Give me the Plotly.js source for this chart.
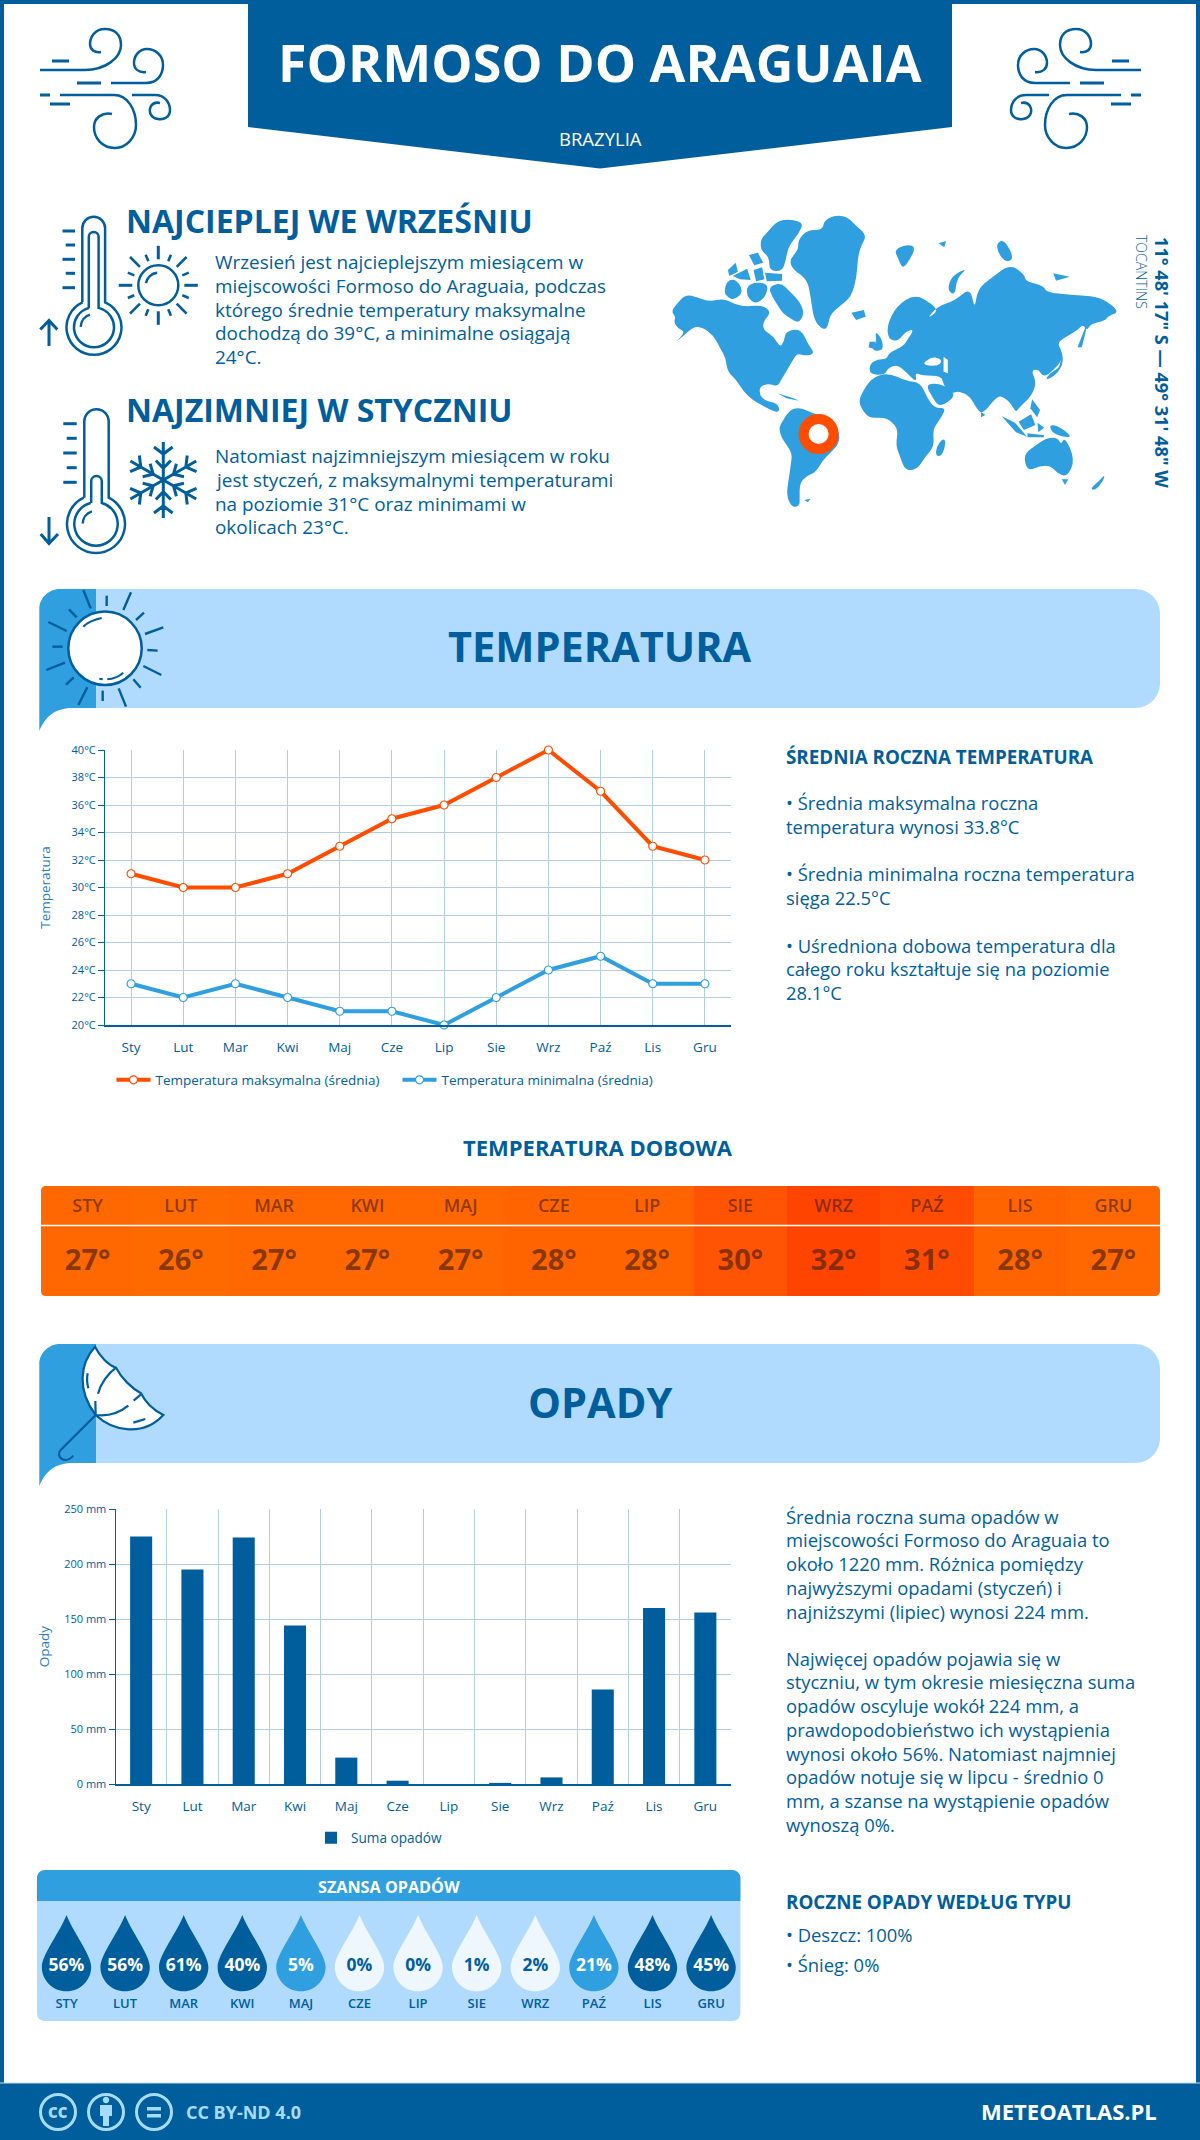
<!DOCTYPE html>
<html lang="pl"><head><meta charset="utf-8">
<script src="https://cdn.plot.ly/plotly-3.0.1.min.js"></script>
<style>html,body{margin:0;padding:0;background:#fff;overflow:hidden}#c{width:1200px;height:2140px}</style>
</head><body><div id="c"></div>
<script>
// ---------- data ----------
const monthsShort = ['Sty','Lut','Mar','Kwi','Maj','Cze','Lip','Sie','Wrz','Paź','Lis','Gru'];
const monthsUpper = ['STY','LUT','MAR','KWI','MAJ','CZE','LIP','SIE','WRZ','PAŹ','LIS','GRU'];
const tempMax = [31,30,30,31,33,35,36,38,40,37,33,32];
const tempMin = [23,22,23,22,21,21,20,22,24,25,23,23];
const tempDaily = [27,26,27,27,27,28,28,30,32,31,28,27];
const rainfall = [225,195,224,144,24,3,0,1,6,86,160,156];
const rainChance = [56,56,61,40,5,0,0,1,2,21,48,45];
const warmText = ['Wrzesień jest najcieplejszym miesiącem w','miejscowości Formoso do Araguaia, podczas','którego średnie temperatury maksymalne','dochodzą do 39°C, a minimalne osiągają','24°C.'];
const coldText = ['Natomiast najzimniejszym miesiącem w roku','jest styczeń, z maksymalnymi temperaturami','na poziomie 31°C oraz minimami w','okolicach 23°C.'];
const tempNotes = ['• Średnia maksymalna roczna','temperatura wynosi 33.8°C',null,'• Średnia minimalna roczna temperatura','sięga 22.5°C',null,'• Uśredniona dobowa temperatura dla','całego roku kształtuje się na poziomie','28.1°C'];
const rainNotes = ['Średnia roczna suma opadów w','miejscowości Formoso do Araguaia to','około 1220 mm. Różnica pomiędzy','najwyższymi opadami (styczeń) i','najniższymi (lipiec) wynosi 224 mm.'];
const rainNotes2 = ['Najwięcej opadów pojawia się w','styczniu, w tym okresie miesięczna suma','opadów oscyluje wokół 224 mm, a','prawdopodobieństwo ich wystąpienia','wynosi około 56%. Natomiast najmniej','opadów notuje się w lipcu - średnio 0','mm, a szanse na wystąpienie opadów','wynoszą 0%.'];

// ---------- style ----------
const DARK='#005e9d', MID='#2f9fe0', LIGHT='#b0dbff', PALE='#eff7fe', ORANGE='#ff4d00', GRID='#b4cee1';
const FONT='"Open Sans", sans-serif';
const BODY_L=18.9, BODY_R=18.4;

// ---------- helpers ----------
const W=1200,H=2140;
const dx=(l,r)=>[l/W,r/W], dy=(t,b)=>[1-b/H,1-t/H];
const shapes=[], ann=[];
function S(path,o={}){shapes.push(Object.assign({type:'path',xref:'x',yref:'y',path,layer:'above',
  line:{width:o.w===undefined?2.5:o.w,color:o.c||DARK},fillcolor:o.f||'rgba(0,0,0,0)'},o.extra||{}));}
function T(x,y,text,size,o={}){ann.push({xref:'x',yref:'y',x,y,text,showarrow:false,xanchor:o.a||'left',yanchor:'middle',
  textangle:o.rot||0,borderpad:0,font:{family:FONT,size,color:o.c||DARK,weight:o.wt||400}});}
function arc(cx,cy,r,a0,a1,start){ // cubic segments of a circular arc, angles in degrees, y down
  const n=Math.max(1,Math.ceil(Math.abs(a1-a0)/90)), st=(a1-a0)/n*Math.PI/180; let a=a0*Math.PI/180;
  const k=4/3*Math.tan(st/4); let p=start?`M${cx+r*Math.cos(a)},${cy+r*Math.sin(a)}`:'';
  for(let i=0;i<n;i++){const b=a+st,
    x1=cx+r*Math.cos(a),y1=cy+r*Math.sin(a),x2=cx+r*Math.cos(b),y2=cy+r*Math.sin(b);
    p+=`C${x1-k*r*Math.sin(a)},${y1+k*r*Math.cos(a)} ${x2+k*r*Math.sin(b)},${y2-k*r*Math.cos(b)} ${x2},${y2}`; a=b;}
  return p;}
const circ=(cx,cy,r)=>arc(cx,cy,r,0,360,true)+'Z';
const line=(x0,y0,x1,y1)=>`M${x0},${y0}L${x1},${y1}`;
function thermo(cx,top,hw,bx,by,R,ihw,itop,ir,ticks,tx0L,tx0S,tx1){
  const d=Math.sqrt(R*R-hw*hw), a=Math.atan2(-d,hw)*180/Math.PI;
  S(`M${cx-hw},${by-d}L${cx-hw},${top+hw}`+arc(cx,top+hw,hw,180,360)+`L${cx+hw},${by-d}`+arc(bx,by,R,a,180-a));
  const d2=Math.sqrt(ir*ir-ihw*ihw), a2=Math.atan2(-d2,ihw)*180/Math.PI;
  S(`M${cx-ihw},${by-d2}L${cx-ihw},${itop+ihw}`+arc(cx,itop+ihw,ihw,180,360)+`L${cx+ihw},${by-d2}`+arc(bx,by,ir,a2,180-a2));
  S(arc(bx,by,13.3,182,252,true));
  ticks.forEach((y,i)=>S(line(i%2?tx0S:tx0L,y,tx1,y),{w:3}));
}

// ---------- frame + header ----------
['M0,0H4V2140H0Z','M1196,0H1200V2140H1196Z','M0,0H1200V4H0Z'].forEach(p=>S(p,{w:0,f:DARK}));
S('M248,0H952V127L600,168.5L248,127Z',{w:0,f:DARK});
T(600,61,'FORMOSO DO ARAGUAIA',52,{a:'center',c:'#fff',wt:700});
T(600,138,'BRAZYLIA',18.5,{a:'center',c:'#fff'});

// wind icons
const windParts=[[[52,61],[69,61]],[[77,83],[101,83]],[[40,95],[50,95]],[[50,104],[70,104]]];
const windCurves=[
 x=>`M${x(40)},70L${x(85)},70C${x(105)},70 ${x(121)},58 ${x(121)},45C${x(121)},34 ${x(114)},29 ${x(105)},29C${x(95)},29 ${x(90)},37 ${x(90)},44C${x(90)},50 ${x(95)},53 ${x(101)},52`,
 x=>`M${x(111)},83L${x(146)},83C${x(158)},83 ${x(163)},74 ${x(163)},65C${x(163)},55 ${x(155)},49 ${x(147)},49C${x(139)},49 ${x(134)},56 ${x(134)},63C${x(134)},69 ${x(139)},73 ${x(146)},72`,
 x=>`M${x(60)},95L${x(114)},95C${x(128)},95 ${x(136)},110 ${x(136)},125C${x(136)},138 ${x(126)},148 ${x(115)},148C${x(102)},148 ${x(94)},138 ${x(94)},127C${x(94)},118 ${x(102)},112 ${x(112)},114`,
 x=>`M${x(132)},95L${x(155)},95C${x(165)},95 ${x(170)},103 ${x(170)},110C${x(170)},117 ${x(164)},120 ${x(158)},119C${x(151)},118 ${x(148)},112 ${x(151)},106C${x(153)},103 ${x(156)},102 ${x(160)},103`];
[x=>x,x=>1181-x].forEach(m=>{
  windParts.forEach(p=>S(line(m(p[0][0]),p[0][1],m(p[1][0]),p[1][1]),{w:3}));
  windCurves.forEach(f=>S(f(m),{w:2.5}));
});

// warm block
T(124.5,220,'NAJCIEPLEJ WE WRZEŚNIU',32,{wt:700});
thermo(93.7,216.7,11.4,94,327.3,27.5,4.9,232,20,[231,245,259.3,273.3,287.7],62.5,65.7,75);
S('M49,346L49,321M40.3,329.5L49,320.5L57.3,329.5',{w:3});
S(circ(158.3,285.3,20));
S(arc(158.3,285.3,12.5,190,265,true),{w:2.5});
for(let i=0;i<16;i++){const a=i*22.5*Math.PI/180,r0=26,r1=i%2?33:(i%4?40:39.5);
  S(line(158.3+r0*Math.cos(a),285.3+r0*Math.sin(a),158.3+r1*Math.cos(a),285.3+r1*Math.sin(a)),{w:i%4==0?3:2.6});}
warmText.forEach((t,i)=>T(214,262+i*23.75,t,BODY_L));

// cold block
T(124.5,409,'NAJZIMNIEJ W STYCZNIU',32,{wt:700});
thermo(96.5,409.3,12.2,96,524,29,5.3,476,21.7,[423.7,438.3,453,467.7,482.3],63.3,66.7,76.7);
S('M49,543L49,517M40.7,534L49,543.5L58,534',{w:3});
for(let i=0;i<6;i++){const a=(i*60-90)*Math.PI/180,c=Math.cos(a),s=Math.sin(a),px=-s,py=c,cx=163.3,cy=480;
  const P=(r,o)=>`${cx+r*c+o*px},${cy+r*s+o*py}`;
  S(`M${P(0,0)}L${P(38,0)}M${P(19.5,-7.5)}L${P(11.7,0)}L${P(19.5,7.5)}M${P(33,-9.3)}L${P(26,0)}L${P(33,9.3)}`,{w:3});
}
coldText.forEach((t,i)=>T(214,456+i*23.75,t,BODY_L));

// ---------- map (decorative outline) ----------
const mapPolys=[
[88,365,100,345,128,313,160,322,195,335,235,325,270,345,300,350,340,345,368,365,345,395,345,420,375,440,392,472,403,455,408,425,440,417,458,430,470,462,490,490,465,498,440,490,428,510,412,540,395,570,385,590,360,580,335,590,335,615,350,632,385,640,392,665,375,665,340,645,315,630,290,605,270,570,245,545,240,505,225,475,205,435,175,412,150,410,125,435,98,458,128,425,105,415,95,395,100,380],
[385,610,430,625,445,632,410,625],
[360,290,395,278,420,305,448,335,460,370,445,400,420,385,400,370,385,345,370,320],
[235,305,245,270,270,268,290,305,265,330,245,322],
[246,240,268,218,274,245,250,258],[260,258,300,236,310,270,280,268],
[305,195,330,188,345,218,320,226],[318,240,342,232,348,268,325,274],[350,248,398,252,398,272,355,274],[305,278,360,278,352,322,320,344,296,312],
[358,125,385,92,420,88,458,98,445,130,415,170,408,212,398,244,362,242,362,202,338,180,338,148],
[515,92,545,76,580,80,602,105,635,135,620,165,610,200,607,260,592,320,557,350,532,375,524,418,505,414,486,385,478,320,468,268,428,238,418,210,443,180,443,150,468,120,512,120],
[392,705,420,658,450,653,480,668,510,678,558,720,558,760,532,790,512,810,492,847,467,857,447,880,447,925,447,947,425,953,410,915,416,870,423,820,426,787,398,747,390,720],
[615,620,648,563,695,548,745,573,785,578,805,625,825,655,860,653,832,700,820,720,824,770,797,802,777,838,743,842,728,800,716,765,723,720,703,692,680,682,640,685,615,647],
[847,746,857,753,847,797,828,799,830,770],
[643,522,665,508,690,508,698,488,738,468,748,450,768,418,745,423,722,455,695,447,692,405,718,348,770,312,818,342,834,365,802,387,835,348,880,333,925,292,937,360,945,298,985,262,1037,222,1078,255,1078,273,1132,288,1137,308,1230,316,1292,322,1344,365,1312,377,1302,392,1262,402,1252,422,1240,402,1225,422,1167,455,1180,480,1182,510,1157,542,1130,562,1115,537,1095,542,1110,575,1097,617,1062,652,1052,668,1040,642,1020,622,1000,617,960,673,943,657,923,617,890,602,875,612,850,587,845,557,790,557,770,547,775,577,750,552,720,522,692,537,687,554,643,554],
[798,580,850,583,888,615,840,653,820,625],
[658,423,677,445,682,482,648,482,663,455],[643,455,660,455,655,477,640,472],
[592,368,627,360,632,380,605,390],[712,180,745,163,772,170,757,207,735,238,723,205],[836,160,857,153,852,172],
[860,300,873,258,918,233,887,265,882,317],[1157,250,1203,260,1165,272],[998,160,1020,148,1048,205,1025,218,1003,190],
[955,666,967,675,955,682],[1133,572,1165,556,1188,515,1175,468,1180,530,1150,547],[1225,472,1252,398,1247,430,1237,472],
[1098,628,1120,660,1112,682,1093,655],[1060,695,1095,673,1107,705,1075,720],[1012,678,1050,698,1084,740,1053,727],[1085,730,1132,736,1130,742,1085,742],[1113,698,1132,713,1115,727],
[1146,703,1175,710,1212,742,1180,740,1153,727],
[1073,795,1105,768,1140,743,1170,743,1178,765,1190,740,1218,810,1197,860,1170,852,1150,827,1120,827,1085,844],
[1181,868,1199,868,1190,885],[1260,897,1285,873,1302,853,1297,874,1275,900],[460,930,477,926,470,937]];
const mapSeas=[[790,520,820,500,845,508,840,525,810,528],[850,500,862,510,862,550,850,545]];
const mapPt=(a,i)=>[640+a[i]/2.8,190+a[i+1]/3];
const mapPath=a=>{ // rounded coast: quadratic through midpoints of the outline
  const n=a.length; if(n<10){let p='';for(let i=0;i<n;i+=2){const q=mapPt(a,i);p+=(i?'L':'M')+q[0]+','+q[1];}return p+'Z';}
  const mid=(i,j)=>{const u=mapPt(a,i),v=mapPt(a,j);return [(u[0]+v[0])/2,(u[1]+v[1])/2];};
  let m=mid(n-2,0),p=`M${m[0]},${m[1]}`;
  for(let i=0;i<n;i+=2){const q=mapPt(a,i),e=mid(i,(i+2)%n);p+=`Q${q[0]},${q[1]} ${e[0]},${e[1]}`;}
  return p+'Z';};
mapPolys.forEach(a=>S(mapPath(a),{w:0,f:MID}));
mapSeas.forEach(a=>S(mapPath(a),{w:0,f:'#fff'}));
S(circ(818.6,434,15),{w:10,c:ORANGE,f:'#fff'});
T(1162,362,'11° 48\' 17" S — 49° 31\' 48" W',18.2,{a:'center',rot:90,wt:700});
T(1142,272,'TOCANTINS',14,{a:'center',rot:90,wt:300});

// ---------- banners ----------
function banner(top){const b=top+119;
  S(`M60,${top}H1135C1149,${top} 1160,${top+11} 1160,${top+25}V${b-25}C1160,${b-11} 1149,${b} 1135,${b}H40V${top+20}C40,${top+9} 49,${top} 60,${top}Z`,{w:0,f:LIGHT,extra:{layer:'below'}});
  S(`M39.3,${b+23}V${top+20}C39.3,${top+9} 49,${top} 60,${top}H96V${b}H72C55,${b} 45,${b+9} 39.3,${b+23}Z`,{w:0,f:MID,extra:{layer:'below'}});
}
banner(589); banner(1344);
T(600,646,'TEMPERATURA',41.5,{a:'center',wt:700});
T(600,1402,'OPADY',41.5,{a:'center',wt:700});
const z8=(x,y)=>[30+x/3,580+y/3];
S(circ(105,648.3,36.7),{f:'#fff',w:2.5});
[[160,30,182,85],[230,47,230,78],[303,37,280,90],[342,98,318,120],[400,142,345,162],[383,212,352,210],[394,285,340,258],[332,323,310,298],[288,380,266,325],[218,363,218,332],[145,375,172,322],[108,314,131,292],[49,270,105,248],[67,200,98,200],[55,126,110,153],[117,88,140,112]]
 .forEach(r=>{const a=z8(r[0],r[1]),b=z8(r[2],r[3]);S(line(a[0],a[1],b[0],b[1]),{w:2.4});});
S('M83.3,626.7C88,622 94,619.5 101.7,618',{w:2});S('M107.3,679.3C113,679 119,676.5 123.3,672.7',{w:2});S('M99.3,678.7L102.7,679.3',{w:2});
const U=(x,y)=>(30+x/3)+','+(1335+y/3);
S(`M${U(195,35)}C${U(150,85)} ${U(140,165)} ${U(197,240)}C${U(250,290)} ${U(340,305)} ${U(400,240)}C${U(370,225)} ${U(345,200)} ${U(333,175)}C${U(305,160)} ${U(275,130)} ${U(258,98)}C${U(235,90)} ${U(210,65)} ${U(195,35)}Z`,{f:'#fff',w:2.2});
S(`M${U(258,98)}C${U(235,115)} ${U(212,145)} ${U(204,176)}`,{w:2.2});
S(`M${U(196,198)}L${U(197,240)}C${U(235,245)} ${U(270,232)} ${U(295,212)}`,{w:2.2});
S(`M${U(311,197)}L${U(333,178)}`,{w:2.2});S(`M${U(173,115)}C${U(170,130)} ${U(171,145)} ${U(175,160)}`,{w:2.2});S(`M${U(310,263)}L${U(346,252)}`,{w:2.2});
S(`M${U(197,240)}L${U(92,345)}C${U(75,365)} ${U(105,390)} ${U(130,362)}`,{w:2.2});

// ---------- right-hand text ----------
T(785,757,'ŚREDNIA ROCZNA TEMPERATURA',18.8,{wt:700});
tempNotes.forEach((t,i)=>{if(t)T(785,802.7+i*23.75,t,BODY_R);});
rainNotes.forEach((t,i)=>T(785,1516+i*23.75,t,BODY_R));
rainNotes2.forEach((t,i)=>T(785,1658+i*23.75,t,BODY_R));
T(785,1902,'ROCZNE OPADY WEDŁUG TYPU',18.8,{wt:700});
T(785,1934.5,'• Deszcz: 100%',BODY_R);T(785,1964,'• Śnieg: 0%',BODY_R);
T(598,1147,'TEMPERATURA DOBOWA',22,{a:'center',wt:700});

// ---------- chance panel ----------
S('M45,1870H732C737,1870 740.4,1874 740.4,1878V2013C740.4,2018 737,2021 732,2021H45C40,2021 37,2018 37,2013V1878C37,1874 40,1870 45,1870Z',{w:0,f:LIGHT,extra:{layer:'below'}});
S('M45,1870H732C737,1870 740.4,1874 740.4,1878V1901H37V1878C37,1874 40,1870 45,1870Z',{w:0,f:MID,extra:{layer:'below'}});
T(389,1887,'SZANSA OPADÓW',16.2,{a:'center',c:'#fff',wt:700});
const dropColor=v=>v<5?PALE:(v<40?MID:DARK);
const dropText=v=>v<5?DARK:'#fff';
const DROP_Y=1967;
rainChance.forEach((v,i)=>shapes.push({type:'path',xref:'x4',yref:'y4',xsizemode:'pixel',ysizemode:'pixel',xanchor:i,yanchor:DROP_Y,layer:'below',
  path:'M0,52C6,36 24.7,12 24.7,0C24.7,-13.5 13.5,-24.3 0,-24.3C-13.5,-24.3 -24.7,-13.5 -24.7,0C-24.7,12 -6,36 0,52Z',
  line:{width:0},fillcolor:dropColor(v)}));

// ---------- strip ----------
S('M41,1225.5H1160',{w:1.5,c:'#fff'});
['M41,1186H46C43,1186 41,1188 41,1191Z','M1160,1186H1155C1158,1186 1160,1188 1160,1191Z','M41,1296H46C43,1296 41,1294 41,1291Z','M1160,1296H1155C1158,1296 1160,1294 1160,1291Z'].forEach(p=>S(p,{w:0,f:'#fff'}));

// ---------- footer ----------
S('M0,2083H1200V2140H0Z',{w:0,f:DARK});
S('M0,2083H1200',{w:1,c:'#c9d6df'});
const FT='#a6dcfb';
[58,106,154].forEach(x=>S(circ(x,2112,17.5),{w:3,c:FT}));
T(58,2112,'CC',15,{a:'center',c:FT,wt:800});
S(circ(106,2100,3.2),{w:0,f:FT});
S('M100,2105H112V2116H109V2126H103V2116H100Z',{w:0,f:FT});
S('M147,2107H161V2110.5H147Z',{w:0,f:FT});S('M147,2114H161V2117.5H147Z',{w:0,f:FT});
T(185,2112,'CC BY-ND 4.0',18,{c:FT,wt:700});
T(1158,2111,'METEOATLAS.PL',22,{a:'right',c:'#fff',wt:700});

// ---------- traces ----------
const idx=monthsShort.map((_,i)=>i);
const mk=c=>({symbol:'circle',size:8,color:'#fff',line:{color:c,width:1.2}});
const traces=[
 {type:'scatter',mode:'markers',x:[0],y:[0],xaxis:'x',yaxis:'y',marker:{opacity:0},showlegend:false,hoverinfo:'skip'},
 {type:'scatter',mode:'lines+markers',name:'Temperatura maksymalna (średnia)',x:monthsShort,y:tempMax,xaxis:'x2',yaxis:'y2',
  line:{color:ORANGE,width:4},marker:mk(ORANGE),cliponaxis:false,legend:'legend'},
 {type:'scatter',mode:'lines+markers',name:'Temperatura minimalna (średnia)',x:monthsShort,y:tempMin,xaxis:'x2',yaxis:'y2',
  line:{color:MID,width:4},marker:mk(MID),cliponaxis:false,legend:'legend'},
 {type:'bar',name:'Suma opadów',x:monthsShort,y:rainfall,xaxis:'x3',yaxis:'y3',marker:{color:DARK},width:0.43,legend:'legend2',showlegend:true},
 {type:'heatmap',x:idx,y:[1186,1296],z:[tempDaily],xaxis:'x5',yaxis:'y5',zmin:26,zmax:32,showscale:false,hoverinfo:'skip',
  colorscale:[[0,'#ff6a00'],[0.333,'#ff6400'],[0.667,'#ff5403'],[0.833,'#ff4c02'],[1,'#ff4400']]},
 {type:'scatter',mode:'text',x:idx,y:idx.map(()=>1207),text:monthsUpper,xaxis:'x5',yaxis:'y5',showlegend:false,hoverinfo:'skip',
  textfont:{family:FONT,size:18,color:'rgba(70,28,0,0.62)',weight:600}},
 {type:'scatter',mode:'text',x:idx,y:idx.map(()=>1263),text:tempDaily.map(v=>v+'°'),xaxis:'x5',yaxis:'y5',showlegend:false,hoverinfo:'skip',
  textfont:{family:FONT,size:29,color:'rgba(70,28,0,0.65)',weight:700}},
 {type:'scatter',mode:'text',x:idx,y:idx.map(()=>DROP_Y),text:rainChance.map(v=>v+'%'),xaxis:'x4',yaxis:'y4',showlegend:false,hoverinfo:'skip',
  textfont:{family:FONT,size:17.5,color:rainChance.map(dropText),weight:700}},
 {type:'scatter',mode:'text',x:idx,y:idx.map(()=>2005),text:monthsUpper,xaxis:'x4',yaxis:'y4',showlegend:false,hoverinfo:'skip',
  textfont:{family:FONT,size:13,color:DARK,weight:600}}
];

const catAxis=(dom,anchor,extra)=>Object.assign({domain:dom,anchor,type:'category',range:[-0.5,11.5],fixedrange:true,showgrid:true,gridcolor:GRID,gridwidth:1,
  showline:true,linecolor:DARK,linewidth:1.5,ticks:'',tickfont:{family:FONT,size:13.5,color:DARK},ticklabelstandoff:9,zeroline:false,automargin:false},extra||{});
const valAxis=(dom,anchor,range,dtick,suffix,title,standoff)=>({domain:dom,anchor,range,dtick,ticksuffix:suffix,fixedrange:true,showgrid:true,gridcolor:GRID,gridwidth:1,
  showline:true,linecolor:DARK,linewidth:1,ticks:'outside',ticklen:6,tickcolor:DARK,tickfont:{family:FONT,size:11,color:DARK},zeroline:false,automargin:false,
  title:{text:title,standoff,font:{family:FONT,size:13.5,color:'#2a80bd'}}});
const hidden=(dom,anchor,range)=>({domain:dom,anchor,range,visible:false,fixedrange:true,showgrid:false,zeroline:false});

const layout={
 width:W,height:H,margin:{l:0,r:0,t:0,b:0,autoexpand:false},paper_bgcolor:'#fff',plot_bgcolor:'rgba(0,0,0,0)',font:{family:FONT,color:DARK},hovermode:false,
 xaxis:hidden([0,1],'y',[0,W]),yaxis:hidden([0,1],'x',[H,0]),
 xaxis2:catAxis(dx(105,731),'y2'),
 yaxis2:valAxis(dy(750,1025),'x2',[20,40],2,'°C','Temperatura',17),
 xaxis3:catAxis(dx(115.5,731),'y3',{tickson:'boundaries'}),
 yaxis3:valAxis(dy(1509,1784),'x3',[0,250],50,' mm','Opady',11),
 xaxis4:hidden(dx(37.2,740.4),'y4',[-0.5,11.5]),yaxis4:hidden(dy(1901,2021),'x4',[2021,1901]),
 xaxis5:hidden(dx(41,1160),'y5',[-0.5,11.5]),yaxis5:hidden(dy(1186,1296),'x5',[1296,1186]),
 legend:{orientation:'h',x:111.5/W,y:1-1080/H,xanchor:'left',yanchor:'middle',font:{family:FONT,size:13.5,color:DARK},bgcolor:'rgba(0,0,0,0)',itemwidth:34,entrywidth:237,entrywidthmode:'pixels',itemclick:false,itemdoubleclick:false},
 legend2:{orientation:'h',x:311/W,y:1-1838/H,xanchor:'left',yanchor:'middle',font:{family:FONT,size:13.6,color:DARK},bgcolor:'rgba(0,0,0,0)',itemclick:false,itemdoubleclick:false},
 shapes,annotations:ann,showlegend:true
};
Plotly.newPlot('c',traces,layout,{staticPlot:true,displayModeBar:false});
</script></body></html>
